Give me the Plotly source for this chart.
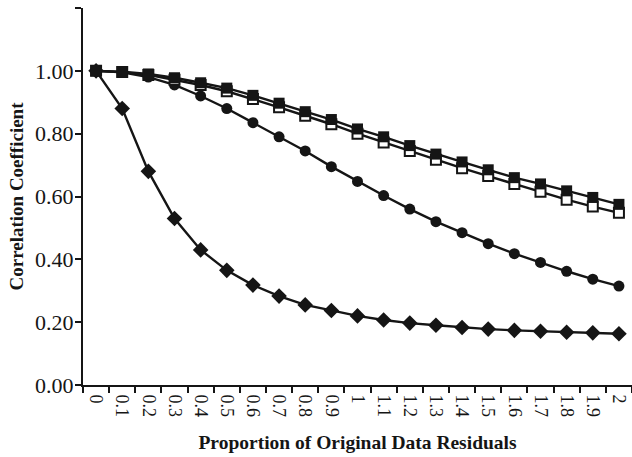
import plotly.graph_objects as go

categories = ["0", "0.1", "0.2", "0.3", "0.4", "0.5", "0.6", "0.7", "0.8", "0.9", "1",
              "1.1", "1.2", "1.3", "1.4", "1.5", "1.6", "1.7", "1.8", "1.9", "2"]

filled_square = [1.00, 0.997, 0.990, 0.978, 0.962, 0.945, 0.922, 0.897, 0.870, 0.845, 0.815,
                 0.790, 0.762, 0.735, 0.710, 0.685, 0.660, 0.640, 0.618, 0.597, 0.575]
open_square = [1.00, 0.996, 0.987, 0.972, 0.955, 0.935, 0.910, 0.884, 0.857, 0.830, 0.800,
               0.772, 0.745, 0.717, 0.690, 0.665, 0.640, 0.615, 0.590, 0.568, 0.548]
circles = [1.00, 0.995, 0.980, 0.955, 0.920, 0.880, 0.835, 0.790, 0.745, 0.695, 0.648,
           0.603, 0.560, 0.520, 0.485, 0.450, 0.418, 0.390, 0.362, 0.337, 0.315]
diamonds = [1.00, 0.880, 0.680, 0.530, 0.430, 0.365, 0.318, 0.283, 0.255, 0.237, 0.220,
            0.207, 0.197, 0.190, 0.183, 0.178, 0.174, 0.171, 0.168, 0.166, 0.163]

y_tickvals = [0, 0.2, 0.4, 0.6, 0.8, 1.0, 1.2]
y_ticktext = ["0.00", "0.20", "0.40", "0.60", "0.80", "1.00", ""]

fig = go.Figure()
line = dict(color="#151515", width=2.4)
fig.add_trace(go.Scatter(x=categories, y=diamonds, mode="lines+markers", line=line,
                         marker=dict(symbol="diamond", size=12, color="#151515")))
fig.add_trace(go.Scatter(x=categories, y=circles, mode="lines+markers", line=line,
                         marker=dict(symbol="circle", size=11, color="#151515")))
fig.add_trace(go.Scatter(x=categories, y=open_square, mode="lines+markers", line=line,
                         marker=dict(symbol="square", size=10, color="white",
                                     line=dict(color="#151515", width=2))))
fig.add_trace(go.Scatter(x=categories, y=filled_square, mode="lines+markers", line=line,
                         marker=dict(symbol="square", size=11, color="#151515")))

font = "Liberation Serif"
fig.update_layout(
    width=632, height=457,
    margin=dict(l=83, r=0, t=8, b=72),
    plot_bgcolor="white", paper_bgcolor="white",
    showlegend=False,
    font=dict(family=font, color="#151515"),
    xaxis=dict(
        type="category", automargin=False,
        showline=True, linecolor="#151515", linewidth=2,
        ticks="outside", tickson="boundaries", ticklen=6, tickwidth=2, tickcolor="#151515",
        tickangle=90, tickfont=dict(size=18, family=font), ticklabelstandoff=4,
        showgrid=False, zeroline=False,
        title=dict(text="<b>Proportion of Original Data Residuals</b>",
                   font=dict(size=19.5, family=font), standoff=19),
        range=[-0.5, 20.5],
    ),
    yaxis=dict(
        range=[0, 1.2], automargin=False,
        tickvals=y_tickvals, ticktext=y_ticktext,
        showline=True, linecolor="#151515", linewidth=2,
        ticks="outside", ticklen=6, tickwidth=2, tickcolor="#151515",
        tickfont=dict(size=22, family=font), ticklabelstandoff=-3,
        showgrid=False, zeroline=False,
        title=dict(text="<b>Correlation Coefficient</b>",
                   font=dict(size=19, family=font), standoff=6),
    ),
)

fig.write_html("out.html")
